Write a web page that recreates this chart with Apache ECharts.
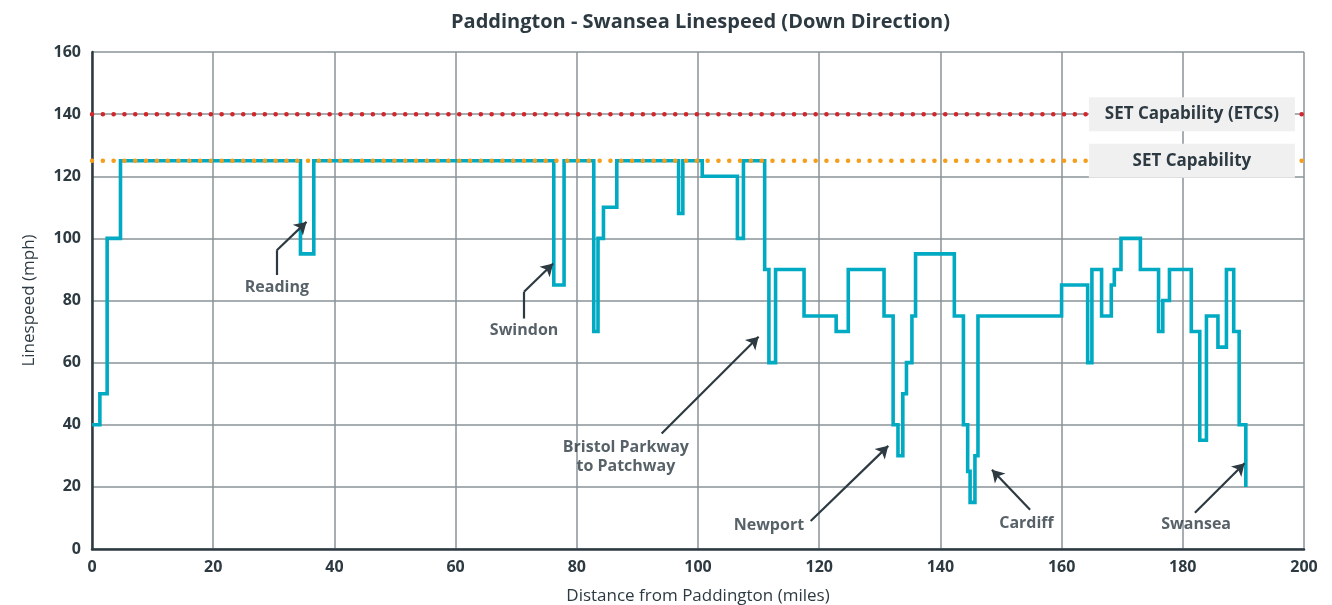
<!DOCTYPE html>
<html style="height: 100%">
<head>
<meta charset="utf-8">
<title>Paddington - Swansea Linespeed</title>
<script src="https://cdn.jsdelivr.net/npm/echarts@6/dist/echarts.min.js"></script>
</head>
<body style="height: 100%; margin: 0; background: #fff">
<div id="container" style="width: 1332px; height: 605px"></div>
<script>
// speed changes: [mile, mph] - speed holds until the next change
var linespeed = [
    [0, 40], [1.3, 50], [2.5, 100], [4.7, 125], [34.4, 95], [36.6, 125],
    [76.2, 85], [77.9, 125], [82.8, 70], [83.5, 100], [84.4, 110], [86.6, 125],
    [96.8, 108], [97.5, 125], [100.7, 120], [106.5, 100], [107.5, 125],
    [111.0, 90], [111.7, 60], [112.8, 90], [117.5, 75], [122.8, 70], [124.8, 90],
    [130.7, 75], [132.2, 40], [133.0, 30], [133.8, 50], [134.4, 60], [135.3, 75],
    [135.9, 95], [142.3, 75], [143.8, 40], [144.5, 25], [144.9, 15], [145.7, 30],
    [146.2, 75], [160.0, 85], [164.3, 60], [165.0, 90], [166.6, 75], [168.2, 85],
    [168.7, 90], [169.8, 100], [173.0, 90], [176.0, 70], [176.7, 80], [177.8, 90],
    [181.4, 70], [182.8, 35], [183.9, 75], [185.8, 65], [187.2, 90], [188.4, 70],
    [189.3, 40], [190.4, 20]
];
var setEtcs = [[0, 140], [200, 140]];
var setCap = [[0, 125], [200, 125]];
var setLabels = [
    { name: 'SET Capability (ETCS)', coord: [181.5, 140] },
    { name: 'SET Capability', coord: [181.5, 125] }
];
var xTicks = [0, 20, 40, 60, 80, 100, 120, 140, 160, 180, 200];
var yTicks = [0, 20, 40, 60, 80, 100, 120, 140, 160];

// annotations (data coords)
var arrows = [
    [[30.5, 88.2], [30.5, 96.2], [35.4, 105.3]],
    [[71.3, 74.2], [71.3, 82.8], [76.1, 91.9]],
    [[94.0, 37.2], [110.0, 68.3]],
    [[118.6, 9.0], [131.4, 33.2]],
    [[154.8, 12.6], [148.5, 25.5]],
    [[182.0, 11.7], [190.2, 27.6]]
];
var places = [
    { name: 'Reading', value: [30.5, 84.3] },
    { name: 'Swindon', value: [71.3, 70.5] },
    { name: 'Bristol Parkway\nto Patchway', value: [88.1, 29.7] },
    { name: 'Newport', value: [111.7, 7.7] },
    { name: 'Cardiff', value: [154.2, 8.2] },
    { name: 'Swansea', value: [182.2, 8.0] }
];

var ink = '#2d3a42';
var font = '"Open Sans", Lato, sans-serif';

var arrowLines = [];
arrows.forEach(function (pts) {
    for (var i = 0; i < pts.length - 1; i++) {
        var last = i === pts.length - 2;
        arrowLines.push([
            { coord: pts[i], symbol: 'none' },
            { coord: pts[i + 1], symbol: last ? 'arrow' : 'none' }
        ]);
    }
});

var chart = echarts.init(document.getElementById('container'));
var option = {
    animation: false,
    textStyle: { fontFamily: font },
    title: {
        text: 'Paddington - Swansea Linespeed (Down Direction)',
        left: 446,
        top: 7,
        textStyle: { fontFamily: font, fontSize: 20, fontWeight: 'bold', color: ink }
    },
    grid: { left: 92, right: 28, top: 52, bottom: 56, outerBoundsMode: 'none', containLabel: false },
    xAxis: {
        type: 'value',
        min: xTicks[0], max: xTicks[xTicks.length - 1], interval: 20,
        name: 'Distance from Paddington (miles)',
        nameLocation: 'middle', nameGap: 39,
        nameTextStyle: { fontSize: 17, color: ink },
        axisLine: { lineStyle: { color: ink, width: 2.5 } },
        axisTick: { show: false },
        axisLabel: { fontSize: 16, fontWeight: 'bold', color: ink, margin: 10 },
        splitLine: { lineStyle: { color: '#8a9398', width: 1.5 } }
    },
    yAxis: {
        type: 'value',
        min: yTicks[0], max: yTicks[yTicks.length - 1], interval: 20,
        name: 'Linespeed (mph)',
        nameLocation: 'middle', nameGap: 54,
        nameTextStyle: { fontSize: 17, color: ink },
        axisLine: { show: true, lineStyle: { color: ink, width: 2.5 } },
        axisTick: { show: false },
        axisLabel: { fontSize: 16, fontWeight: 'bold', color: ink, margin: 11 },
        splitLine: { lineStyle: { color: '#8a9398', width: 1.5 } }
    },
    series: [
        {
            name: 'SET Capability (ETCS)',
            type: 'line',
            data: setEtcs,
            symbol: 'none',
            z: 3,
            lineStyle: { color: '#d2262c', width: 4.5, type: [0.1, 10.7], cap: 'round' }
        },
        {
            name: 'Linespeed',
            type: 'line',
            step: 'end',
            data: linespeed,
            symbol: 'none',
            z: 4,
            lineStyle: { color: '#00aac2', width: 3.6, join: 'miter' }
        },
        {
            name: 'SET Capability',
            type: 'line',
            data: setCap,
            symbol: 'none',
            z: 5,
            lineStyle: { color: '#f59e1b', width: 4.5, type: [0.1, 10.7], cap: 'round' }
        },
        {
            name: 'labels',
            type: 'scatter',
            data: places,
            symbolSize: 0,
            z: 10,
            label: {
                show: true,
                position: 'inside',
                formatter: '{b}',
                fontSize: 16,
                fontWeight: 'bold',
                lineHeight: 19,
                color: ink
            },
            markLine: {
                silent: true,
                symbolSize: [11, 12],
                label: { show: false },
                lineStyle: { color: ink, width: 2.2, type: 'solid' },
                data: arrowLines
            },
            markPoint: {
                silent: true,
                z: 10,
                symbol: 'rect',
                symbolSize: [206, 34],
                itemStyle: { color: '#f0f0f0' },
                label: {
                    show: true,
                    formatter: '{b}',
                    fontSize: 17,
                    fontWeight: 'bold',
                    color: ink
                },
                data: setLabels
            }
        }
    ]
};
chart.setOption(option);
</script>
</body>
</html>
